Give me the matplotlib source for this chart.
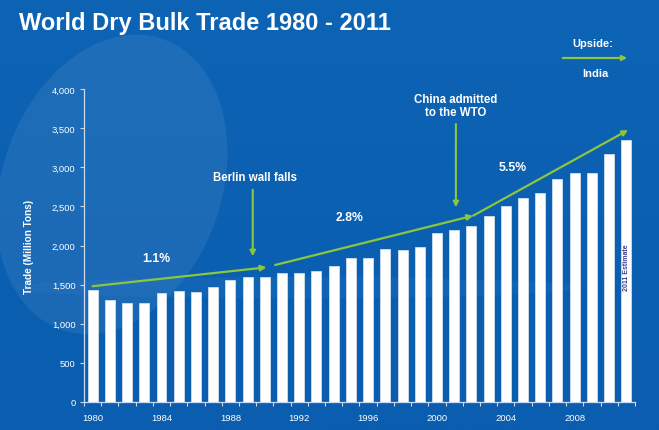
import numpy as np
import matplotlib.pyplot as plt
from matplotlib.patches import Ellipse

plt.rcParams['font.family'] = ['Liberation Sans', 'DejaVu Sans']

# data
years = list(range(1980, 2012))
trade = [1431, 1300, 1269, 1261, 1393, 1419, 1402, 1470, 1565, 1602,
         1602, 1645, 1653, 1674, 1734, 1836, 1840, 1950, 1947, 1985,
         2156, 2198, 2245, 2373, 2505, 2603, 2671, 2846, 2922, 2922,
         3169, 3348]
label_years = [1980, 1984, 1988, 1992, 1996, 2000, 2004, 2008]
y_ticks = [0, 500, 1000, 1500, 2000, 2500, 3000, 3500, 4000]

# growth trend segments (start, end) in (year, tons)
trend_segments = [((1980, 1480), (1990.1, 1721)),
                  ((1990.6, 1751), (2002.1, 2381)),
                  ((2002.1, 2381), (2011.1, 3476))]
growth_labels = [(1983.7, 1840, '1.1%'), (1994.9, 2364, '2.8%'), (2004.4, 3003, '5.5%')]

BG = '#0b60b0'
GREEN = '#8cc63f'
AXIS = '#c9d9ef'

fig = plt.figure(figsize=(6.59, 4.31), dpi=100)
fig.patch.set_facecolor(BG)

# background decoration
bg = fig.add_axes([0, 0, 1, 1], zorder=-1)
bg.set_xlim(0, 1)
bg.set_ylim(0, 1)
bg.axis('off')
grad = np.linspace(0, 1, 256).reshape(-1, 1)
bg.imshow(grad, extent=[0, 1, 0, 1], aspect='auto', origin='lower',
          cmap=plt.matplotlib.colors.LinearSegmentedColormap.from_list('b', ['#0a5daf', '#0d63b4']))
bg.add_patch(Ellipse((0.17, 0.57), 0.34, 0.7, angle=-8, color='white', alpha=0.07, lw=0))
bg.add_patch(Ellipse((0.45, 0.33), 0.85, 0.05, angle=0, color='#4a9ad8', alpha=0.1, lw=0))

ax = fig.add_axes([0.1275, 0.065, 0.836, 0.726])
ax.patch.set_alpha(0)
ax.bar(years, trade, width=0.58, color='white', edgecolor='#dde8f5', linewidth=0.5, zorder=2)

ax.set_xlim(1979.5, 2011.5)
ax.set_ylim(0, 4000)
ax.set_yticks(y_ticks)
ax.set_yticklabels([f'{v:,}' for v in y_ticks])
ax.set_xticks(label_years)
ax.set_xticks(np.arange(1979.5, 2012, 1), minor=True)
ax.tick_params(axis='x', which='major', length=0, pad=8, labelsize=6.8, colors='white')
ax.tick_params(axis='x', which='minor', length=3, color=AXIS, width=0.8)
ax.tick_params(axis='y', length=3, color=AXIS, width=0.8, pad=3, labelsize=6.8, labelcolor='white')
for side in ['top', 'right']:
    ax.spines[side].set_visible(False)
for side in ['left', 'bottom']:
    ax.spines[side].set_color(AXIS)
    ax.spines[side].set_linewidth(0.9)

ax.set_ylabel('Trade (Million Tons)', color='white', fontsize=7.2, fontweight='bold', labelpad=13)

# trend arrows
for (x0, y0), (x1, y1) in trend_segments:
    ax.annotate('', xy=(x1, y1), xytext=(x0, y0),
                arrowprops=dict(arrowstyle='-|>', color=GREEN, lw=1.6, mutation_scale=8,
                                shrinkA=0, shrinkB=0), zorder=3)
for x, y, s in growth_labels:
    ax.text(x, y, s, color='white', fontsize=8.8, fontweight='bold', ha='center', va='center')

# events
ax.annotate('', xy=(1989.3, 1862), xytext=(1989.3, 2713),
            arrowprops=dict(arrowstyle='-|>', color=GREEN, lw=1.5, mutation_scale=8,
                            shrinkA=0, shrinkB=0))
ax.text(1989.45, 2880, 'Berlin wall falls', color='white', fontsize=8.3, fontweight='bold',
        ha='center', va='center')
ax.annotate('', xy=(2001.1, 2488), xytext=(2001.1, 3553),
            arrowprops=dict(arrowstyle='-|>', color=GREEN, lw=1.5, mutation_scale=8,
                            shrinkA=0, shrinkB=0))
ax.text(2001.1, 3790, 'China admitted\nto the WTO', color='white', fontsize=8.3, fontweight='bold',
        ha='center', va='center', linespacing=1.2)

ax.text(2011, 1725, '2011 Estimate', color='#3b3f8c', fontsize=5, fontweight='bold',
        rotation=90, ha='center', va='center', zorder=4)

# title and upside note
fig.text(0.029, 0.945, 'World Dry Bulk Trade 1980 - 2011', color='white', fontsize=17,
         fontweight='bold', ha='left', va='center')
fig.text(0.9, 0.898, 'Upside:', color='white', fontsize=8, fontweight='bold', ha='center', va='center')
fig.text(0.903, 0.828, 'India', color='white', fontsize=8, fontweight='bold', ha='center', va='center')
fig.add_artist(plt.matplotlib.patches.FancyArrowPatch(
    (560 / 659, 1 - 59 / 431), (630 / 659, 1 - 59 / 431), transform=fig.transFigure,
    arrowstyle='-|>', color=GREEN, lw=1.6, mutation_scale=7))

fig.savefig('out.png', dpi=100, facecolor=BG)
